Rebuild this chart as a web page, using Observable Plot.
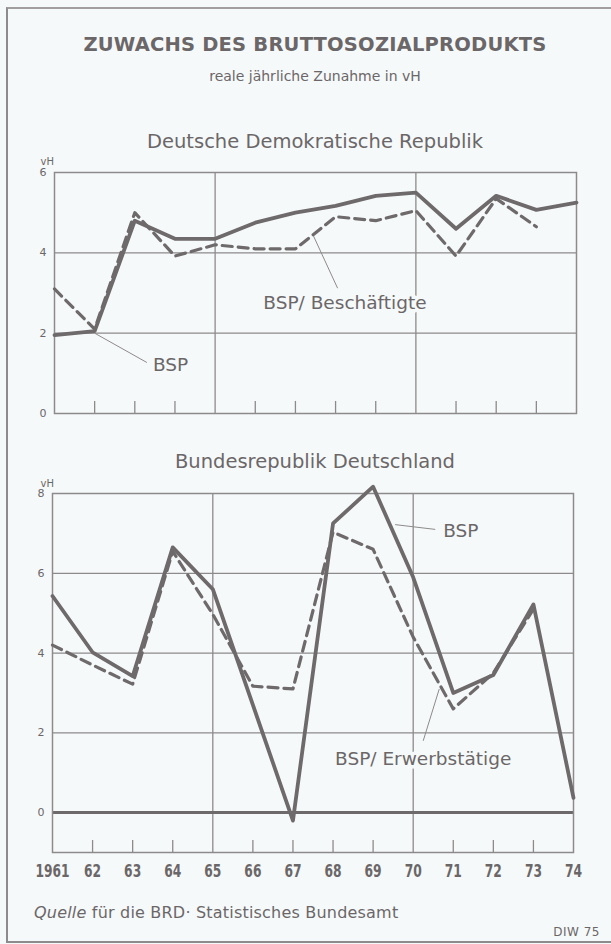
<!DOCTYPE html>
<html>
<head>
<meta charset="utf-8">
<script src="https://cdn.jsdelivr.net/npm/d3@7"></script>
<script src="https://cdn.jsdelivr.net/npm/@observablehq/plot@0.6"></script>
<style>
  html, body { margin: 0; padding: 0; background: #f6f9fa; }
  #page { position: relative; width: 611px; height: 944px; overflow: hidden; background: #f6f9fa;
          font-family: "DejaVu Sans", sans-serif; color: #6b6768; }
  .ctr { position: absolute; left: 0; width: 630px; text-align: center; white-space: nowrap; line-height: 1; }
  #border { position: absolute; left: 6px; top: 7px; width: 640px; height: 932px;
            border-left: 2px solid #8e8b8c; border-top: 2px solid #a19e9f; border-bottom: 2px solid #8e8b8c; }
  #title { top: 35px; font-size: 19.5px; font-weight: bold; letter-spacing: 0.2px; }
  #subtitle { top: 69px; font-size: 14px; }
  #ddrTitle { top: 132px; font-size: 19.5px; }
  #brdTitle { top: 452px; font-size: 19.5px; }
  .chart { position: absolute; left: 0; }
  #source { position: absolute; left: 34px; top: 905px; font-size: 16px; letter-spacing: 0.2px; line-height: 1; white-space: nowrap; }
  #diw { position: absolute; right: 11px; top: 926px; font-size: 12px; line-height: 1; letter-spacing: 0.5px; }
</style>
</head>
<body>
<div id="page">
  <div id="border"></div>
  <div class="ctr" id="title">ZUWACHS DES BRUTTOSOZIALPRODUKTS</div>
  <div class="ctr" id="subtitle">reale jährliche Zunahme in vH</div>
  <div class="ctr" id="ddrTitle">Deutsche Demokratische Republik</div>
  <div class="ctr" id="brdTitle">Bundesrepublik Deutschland</div>
  <div class="chart" id="ddr" style="top:150px"></div>
  <div class="chart" id="brd" style="top:470px"></div>
  <div id="source"><i>Quelle</i> für die BRD· Statistisches Bundesamt</div>
  <div id="diw">DIW 75</div>
</div>
<script>
// ---------- data ----------
const years = [1961, 1962, 1963, 1964, 1965, 1966, 1967, 1968, 1969, 1970, 1971, 1972, 1973, 1974];
const yearLabels = ["1961", "62", "63", "64", "65", "66", "67", "68", "69", "70", "71", "72", "73", "74"];

// Deutsche Demokratische Republik
const ddrBSP         = [1.95, 2.05, 4.8, 4.35, 4.35, 4.75, 5.0, 5.17, 5.42, 5.5, 4.6, 5.42, 5.07, 5.25];
const ddrBeschaeft   = [3.1, 2.1, 5.0, 3.92, 4.2, 4.1, 4.1, 4.9, 4.8, 5.05, 3.92, 5.35, 4.65, null];
const ddrYTicks      = [0, 2, 4, 6];

// Bundesrepublik Deutschland
const brdBSP         = [5.43, 4.02, 3.42, 6.65, 5.6, 2.7, -0.2, 7.25, 8.17, 5.9, 3.0, 3.45, 5.22, 0.37];
const brdErwerb      = [4.2, 3.7, 3.22, 6.55, 4.97, 3.17, 3.1, 7.03, 6.6, 4.4, 2.6, 3.5, 5.1, null];
const brdYTicks      = [0, 2, 4, 6, 8];

const gridYears  = [1965, 1970];
const minorYears = [1962, 1963, 1964, 1966, 1967, 1968, 1969, 1971, 1972, 1973];

// annotation labels (data space) and their leader lines
const ddrLabels  = [{x: 1963.45, y: 1.2, text: "BSP"}, {x: 1966.2, y: 2.75, text: "BSP/ Beschäftigte"}];
const ddrLeaders = [{x1: 1962.0, y1: 2.0, x2: 1963.3, y2: 1.27}, {x1: 1967.45, y1: 4.42, x2: 1968.05, y2: 3.12}];
const brdLabels  = [{x: 1970.75, y: 7.05, text: "BSP"}, {x: 1968.05, y: 1.35, text: "BSP/ Erwerbstätige"}];
const brdLeaders = [{x1: 1969.55, y1: 7.22, x2: 1970.55, y2: 7.1}, {x1: 1970.65, y1: 3.1, x2: 1970.25, y2: 1.8}];

// ---------- styling ----------
const ink = "#6b6768";
const lineInk = "#6e6a6b";
const grid = "#8d8a8b";
const bg = "#f6f9fa";
const fontFamily = "DejaVu Sans, sans-serif";

const ddrRows = years.map((year, i) => ({year, bsp: ddrBSP[i], per: ddrBeschaeft[i]}));
const brdRows = years.map((year, i) => ({year, bsp: brdBSP[i], per: brdErwerb[i]}));

function seriesMarks(rows) {
  return [
    Plot.line(rows, {x: "year", y: "per", stroke: lineInk, strokeWidth: 3.2, strokeDasharray: "10,6", strokeLinejoin: "round"}),
    Plot.line(rows, {x: "year", y: "bsp", stroke: lineInk, strokeWidth: 3.8, strokeLinejoin: "round"})
  ];
}

function annotationMarks(labels, leaders) {
  return [
    Plot.link(leaders, {x1: "x1", y1: "y1", x2: "x2", y2: "y2", stroke: grid, strokeWidth: 1}),
    Plot.text(labels, {x: "x", y: "y", text: "text", textAnchor: "start", fontSize: 18.5, fill: ink,
      stroke: bg, strokeWidth: 7, fontFamily})
  ];
}

const ddr = Plot.plot({
  width: 611, height: 275,
  marginTop: 22, marginBottom: 12, marginLeft: 54, marginRight: 35,
  style: {background: "transparent", color: ink, fontFamily, overflow: "visible"},
  x: {domain: [1961, 1974], axis: null},
  y: {domain: [0, 6]},
  marks: [
    Plot.ruleY([2, 4], {stroke: grid, strokeWidth: 1.3}),
    Plot.ruleX(gridYears, {stroke: grid, strokeWidth: 1.3}),
    Plot.ruleX(minorYears, {y1: 0, y2: 0.3, stroke: grid, strokeWidth: 1.3}),
    Plot.frame({stroke: grid, strokeWidth: 1.5}),
    Plot.axisY(ddrYTicks, {tickSize: 0, tickPadding: 8, fontSize: 11, label: null, fill: ink}),
    Plot.text(["vH"], {frameAnchor: "top-left", dx: -14, dy: -15, fontSize: 10, fill: ink}),
    ...annotationMarks(ddrLabels, ddrLeaders),
    ...seriesMarks(ddrRows)
  ]
});
document.getElementById("ddr").appendChild(ddr);

const brd = Plot.plot({
  width: 611, height: 420,
  marginTop: 23, marginBottom: 38, marginLeft: 52, marginRight: 38,
  style: {background: "transparent", color: ink, fontFamily, overflow: "visible"},
  x: {domain: [1961, 1974]},
  y: {domain: [-1, 8]},
  marks: [
    Plot.ruleY([2, 4, 6], {stroke: grid, strokeWidth: 1.3}),
    Plot.ruleX(gridYears, {stroke: grid, strokeWidth: 1.3}),
    Plot.ruleX(minorYears, {y1: -1, y2: -0.7, stroke: grid, strokeWidth: 1.3}),
    Plot.ruleY([0], {stroke: lineInk, strokeWidth: 3}),
    Plot.frame({stroke: grid, strokeWidth: 1.5}),
    Plot.axisY(brdYTicks, {tickSize: 0, tickPadding: 8, fontSize: 11, label: null, fill: ink}),
    Plot.text(["vH"], {frameAnchor: "top-left", dx: -12, dy: -14, fontSize: 10, fill: ink}),
    Plot.axisX(years, {tickSize: 0, tickPadding: 12, label: null, fill: ink,
      tickFormat: (d) => yearLabels[years.indexOf(d)],
      fontSize: 17.5, fontWeight: "bold", fontFamily: "DejaVu Sans, sans-serif"}),
    ...annotationMarks(brdLabels, brdLeaders),
    ...seriesMarks(brdRows)
  ]
});
document.getElementById("brd").appendChild(brd);

// condensed look for the year labels (DIN Engschrift-like)
d3.select(brd).selectAll('g[aria-label="x-axis tick label"] text').each(function () {
  const w = this.getComputedTextLength();
  this.setAttribute("textLength", (w * 0.7).toFixed(1));
  this.setAttribute("lengthAdjust", "spacingAndGlyphs");
});
</script>
</body>
</html>
